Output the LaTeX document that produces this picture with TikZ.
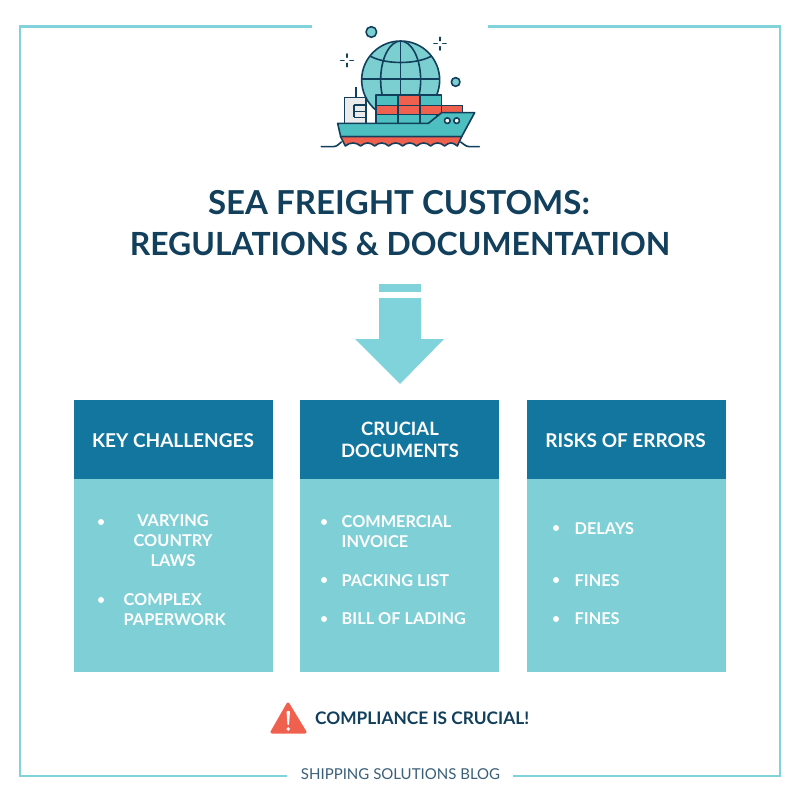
\documentclass[tikz,border=0pt]{standalone}
\usepackage{fontspec}
\setmainfont{Lato}
\definecolor{frameC}{HTML}{80D3DA}
\definecolor{headC}{HTML}{13769F}
\definecolor{bodyC}{HTML}{7FD0D6}
\definecolor{inkC}{HTML}{12405C}
\definecolor{tealC}{HTML}{4DBFC0}
\definecolor{globeC}{HTML}{7CCFD0}
\definecolor{redC}{HTML}{F0604F}
\definecolor{blogC}{HTML}{3A5F78}
\tikzset{
 framel/.style={draw=frameC,line width=2.6pt},
 head/.style={fill=headC,draw=none},
 bodyb/.style={fill=bodyC,draw=none},
 headt/.style={text=white,font=\fontsize{19}{21.5}\selectfont\bfseries,align=center,inner sep=0pt},
 itemt/.style={text=white,font=\fontsize{16.3}{20}\selectfont\bfseries,inner sep=0pt},
 dotb/.style={circle,fill=white,inner sep=0pt,minimum size=6pt},
 icon/.style={draw=inkC,line width=1.6pt,line join=round},
}
\begin{document}
\begin{tikzpicture}[x=1pt,y=-1pt]
\useasboundingbox (0,0) rectangle (800,800);
\fill[white] (0,0) rectangle (800,800);
% frame
\draw[framel] (312,26.5) -- (20,26.5) -- (20,776) -- (287,776);
\draw[framel] (488,26.5) -- (780,26.5) -- (780,776) -- (513,776);
% ship icon, in zoomed coordinates
\begin{scope}[shift={(300,10)},x=0.3333pt,y=-0.3333pt]
 % globe
 \fill[globeC] (302,210) circle (117);
 \draw[icon] (302,210) circle (117);
 \begin{scope}
  \clip (302,210) circle (117);
  \draw[icon] (302,93) -- (302,327);
  \draw[icon] (302,210) ellipse (60 and 117);
  \draw[icon] (183,207) -- (420,207);
  \draw[icon] (205,135) .. controls (250,165) and (354,165) .. (400,135);
 \end{scope}
 % planets
 \filldraw[fill=globeC,icon] (214,66) circle (16);
 \filldraw[fill=globeC,icon] (467,216) circle (13);
 % sparkles
 \draw[icon,line cap=round] (420,82) -- (420,92) (420,110) -- (420,120) (402,100) -- (412,100) (428,100) -- (438,100);
 \draw[icon,line cap=round] (141,132) -- (141,142) (141,160) -- (141,170) (122,151) -- (132,151) (150,151) -- (160,151);
 % bridge
 \draw[icon] (168,230) -- (168,262);
 \filldraw[fill=black!8!white,icon] (134,340) -- (134,262) -- (198,262) -- (198,340);
 \draw[icon] (162,285) -- (198,285) (162,305) -- (198,305) (162,322) -- (198,322) (162,285) -- (162,322);
 % containers
 \foreach \x/\w/\y/\h/\c in {228/66/255/31/tealC,294/66/255/31/redC,360/64/255/31/tealC,
   228/66/286/28/redC,294/66/286/28/redC,360/64/286/28/redC,424/64/286/28/redC,
   228/66/314/26/tealC,294/66/314/26/tealC,360/50/314/26/tealC}
   \filldraw[fill=\c,icon] (\x,\y) rectangle ++(\w,\h);
 % hull
 \filldraw[fill=tealC,icon] (113,340) -- (385,340) -- (425,308) -- (524,308) -- (485,380) -- (122,380) -- cycle;
 \filldraw[fill=redC,icon] (122,380) -- (485,380) -- (472,408)
   .. controls (458,396) and (448,396) .. (434,408) .. controls (420,396) and (405,396) .. (392,408)
   .. controls (378,396) and (364,396) .. (350,408) .. controls (336,396) and (322,396) .. (308,408)
   .. controls (294,396) and (280,396) .. (266,408) .. controls (252,396) and (238,396) .. (224,408)
   .. controls (210,396) and (196,396) .. (182,408) .. controls (168,396) and (150,396) .. (136,408) -- cycle;
 \draw[icon,line cap=round] (64,410) -- (100,410) .. controls (112,410) and (118,400) .. (124,396);
 \draw[icon,line cap=round] (482,396) .. controls (490,400) and (496,410) .. (508,410) -- (538,410);
 % portholes
 \filldraw[fill=white,icon] (442,332) circle (8.5);
 \filldraw[fill=white,icon] (470,332) circle (8.5);
\end{scope}
% title
\node[text=inkC,font=\fontsize{33}{40}\selectfont\bfseries,inner sep=0pt] (title1) at (399,203) {SEA FREIGHT CUSTOMS:};
\node[text=inkC,font=\fontsize{31.9}{40}\selectfont\bfseries,inner sep=0pt] (title2) at (400,244) {REGULATIONS \& DOCUMENTATION};
% arrow
\fill[frameC] (379,284) rectangle (421,292);
\fill[frameC] (379,298) -- (421,298) -- (421,339) -- (444,339) -- (400,384) -- (355,339) -- (379,339) -- cycle;
% columns
\fill[bodyb] (73.5,478) rectangle (272.8,671.7);
\fill[bodyb] (300,478) rectangle (499.3,671.7);
\fill[bodyb] (526.7,478) rectangle (726,671.7);
\fill[head] (73.5,399.5) rectangle (272.8,478.5);
\fill[head] (300,399.5) rectangle (499.3,478.5);
\fill[head] (526.7,399.5) rectangle (726,478.5);
\node[headt] (h1) at (173,440.5) {KEY CHALLENGES};
\node[headt,font=\fontsize{18.4}{21.5}\selectfont\bfseries] (h2) at (400,440) {CRUCIAL\\DOCUMENTS};
\node[headt] (h3) at (625.5,440.5) {RISKS OF ERRORS};
% items
\node[dotb] (d1) at (101,522) {};
\node[itemt,align=center] (i1) at (173,540.5) {VARYING\\COUNTRY\\LAWS};
\node[dotb] (d2) at (101,600) {};
\node[itemt,align=left,anchor=west] (i2) at (123.5,609.5) {COMPLEX\\PAPERWORK};
\node[dotb] (d3) at (324,522) {};
\node[itemt,align=left,anchor=west] (i3) at (341.5,531.5) {COMMERCIAL\\INVOICE};
\node[dotb] (d4) at (324,580) {};
\node[itemt,anchor=west] (i4) at (341.5,580.5) {PACKING LIST};
\node[dotb] (d5) at (324,619) {};
\node[itemt,anchor=west] (i5) at (341.5,619) {BILL OF LADING};
\node[dotb] (d6) at (556,528) {};
\node[itemt,anchor=west] (i6) at (574.5,528.5) {DELAYS};
\node[dotb] (d7) at (556,580) {};
\node[itemt,anchor=west] (i7) at (574.5,580.5) {FINES};
\node[dotb] (d8) at (556,619) {};
\node[itemt,anchor=west] (i8) at (574.5,619) {FINES};
% warning
\fill[redC,draw=redC,line width=3pt,line join=round] (288,704) -- (305,732) -- (272,732) -- cycle;
\fill[white,rounded corners=0.8pt] (286.5,711) -- (290,711) -- (289,725) -- (287.5,725) -- cycle;
\fill[white] (288.2,729) circle (1.9);
\node[text=inkC,font=\fontsize{17.3}{20}\selectfont\bfseries,anchor=west,inner sep=0pt] (warn) at (315,718) {COMPLIANCE IS CRUCIAL!};
% footer
\node[text=blogC,font=\fontsize{15}{18}\selectfont,inner sep=0pt] (blog) at (400.5,774) {SHIPPING SOLUTIONS BLOG};
\end{tikzpicture}
\end{document}
